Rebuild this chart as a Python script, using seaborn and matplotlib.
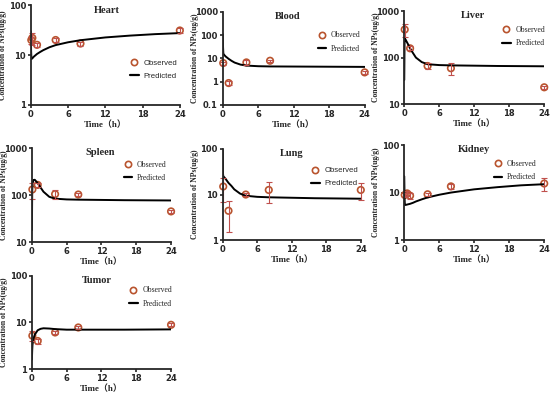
import numpy as np
import matplotlib
matplotlib.use("Agg")
import matplotlib.pyplot as plt
import seaborn as sns
from matplotlib.lines import Line2D
from matplotlib.ticker import NullLocator, FixedLocator, FuncFormatter

# predicted curve time grid (h)
pred_t = [0, 0.05, 0.1, 0.25, 0.5, 1, 1.5, 2, 3, 4, 6, 8, 12, 16, 20, 24]

# Heart
heart_t = [0.08, 0.25, 1, 4, 8, 24]
heart_obs = [20, 22, 16, 20, 17, 31]
heart_err = [3, 6, 1.5, 2, 1.5, 4]
heart_pred = [30, 12, 8.3, 8.6, 9.3, 10.5, 11.5, 12.5, 14.3, 15.8, 18, 19.8, 22.5, 24.5, 26.2, 27.5]

# Blood
blood_t = [0.08, 1, 4, 8, 24]
blood_obs = [6.3, 0.87, 6.7, 7.9, 2.5]
blood_err = [1.0, 0.15, 1.5, 1.0, 0.3]
blood_pred = [110, 30, 16, 14, 12, 9.5, 7.8, 6.6, 5.4, 4.9, 4.6, 4.5, 4.45, 4.4, 4.35, 4.3]

# Liver
liver_t = [0.08, 1, 4, 8, 24]
liver_obs = [400, 158, 66, 59, 23]
liver_err = [130, 15, 10, 17, 2]
liver_pred = [33, 200, 260, 240, 210, 158, 125, 100, 80, 72, 69, 68, 67, 66, 65.5, 65]

# Spleen
spleen_t = [0.08, 1, 4, 8, 24]
spleen_obs = [132, 165, 105, 103, 45]
spleen_err = [50, 15, 22, 8, 4]
spleen_pred = [18, 120, 170, 210, 212, 180, 145, 118, 92, 84, 81, 80, 79, 78, 77.5, 77]

# Lung
lung_t = [0.08, 1, 4, 8, 24]
lung_obs = [15, 4.4, 10, 12.6, 12.6]
lung_err = [8, 2.9, 0.8, 6.2, 5]
lung_pred = [95, 28, 25, 24, 22, 18, 15.5, 13, 10.5, 9.4, 8.9, 8.7, 8.5, 8.3, 8.2, 8.1]

# Kidney
kidney_t = [0.08, 0.5, 1, 4, 8, 24]
kidney_obs = [8.9, 9.6, 8.6, 9.2, 13.5, 15.5]
kidney_err = [0.8, 1.0, 1.3, 0.6, 1.5, 4.5]
kidney_pred = [22, 8, 5.5, 5.5, 5.6, 5.8, 6.1, 6.5, 7.2, 7.9, 9, 10, 11.7, 13, 14.2, 15]

# Tumor
tumor_t = [0.08, 1, 4, 8, 24]
tumor_obs = [5.2, 4.0, 6.1, 7.8, 8.9]
tumor_err = [1.2, 0.5, 0.4, 0.5, 0.6]
tumor_pred = [1.6, 2.5, 3.3, 4.4, 5.5, 6.8, 7.3, 7.5, 7.4, 7.2, 7.0, 7.0, 7.0, 7.0, 7.05, 7.1]

# name, data..., ylim, axes rect, legend font, legend anchor, title x
panels = [
    ("Heart", heart_t, heart_obs, heart_err, heart_pred, (1, 100), [0.056, 0.733, 0.271, 0.254], "sans", (0.63, 0.20), 0.51),
    ("Blood", blood_t, blood_obs, blood_err, blood_pred, (0.1, 1000), [0.405, 0.733, 0.258, 0.237], "serif", (0.63, 0.50), 0.46),
    ("Liver", liver_t, liver_obs, liver_err, liver_pred, (10, 1000), [0.735, 0.735, 0.2545, 0.237], "serif", (0.66, 0.55), 0.49),
    ("Spleen", spleen_t, spleen_obs, spleen_err, spleen_pred, (10, 1000), [0.058, 0.384, 0.253, 0.239], "serif", (0.62, 0.58), 0.49),
    ("Lung", lung_t, lung_obs, lung_err, lung_pred, (1, 100), [0.405, 0.389, 0.251, 0.232], "sans", (0.60, 0.52), 0.50),
    ("Kidney", kidney_t, kidney_obs, kidney_err, kidney_pred, (1, 100), [0.735, 0.389, 0.2545, 0.242], "serif", (0.60, 0.56), 0.50),
    ("Tumor", tumor_t, tumor_obs, tumor_err, tumor_pred, (1, 100), [0.058, 0.061, 0.253, 0.237], "serif", (0.66, 0.60), 0.47),
]

sns.set_style("ticks")
plt.rcParams['font.family'] = ['Liberation Serif', 'DejaVu Serif']

obs_color = "#B9542E"
fig = plt.figure(figsize=(5.5, 3.93), dpi=100)

for name, t, obs, err, pred, ylim, pos, legfont, legpos, title_x in panels:
    ax = fig.add_axes(pos)
    ax.set_yscale("log")
    sns.lineplot(x=pred_t, y=pred, ax=ax, color="black", linewidth=1.4, legend=False)
    ax.errorbar(t, obs, yerr=err, fmt="none", ecolor="#C0504D", elinewidth=0.8,
                capsize=2, capthick=0.8, clip_on=False)
    sns.scatterplot(x=t, y=obs, ax=ax, marker="o", s=22, facecolor="none",
                    edgecolor=obs_color, linewidth=1.2, legend=False, clip_on=False)
    ax.set_xlim(0, 24)
    ax.set_ylim(*ylim)
    ax.set_xticks([0, 6, 12, 18, 24])
    lo, hi = np.log10(ylim[0]), np.log10(ylim[1])
    decades = [10.0 ** k for k in range(int(round(lo)), int(round(hi)) + 1)]
    ax.yaxis.set_major_locator(FixedLocator(decades))
    ax.yaxis.set_minor_locator(NullLocator())
    ax.yaxis.set_major_formatter(FuncFormatter(lambda v, p: ("%g" % v)))
    for lab in ax.get_xticklabels() + ax.get_yticklabels():
        lab.set_fontfamily("DejaVu Sans")
        lab.set_fontweight("bold")
        lab.set_fontsize(6)
    ax.tick_params(axis="both", length=2.5, width=1.2, pad=1)
    for s in ["left", "bottom"]:
        ax.spines[s].set_linewidth(1.3)
    sns.despine(ax=ax)
    ax.set_xlabel("Time（h）", fontsize=6.5, fontweight="bold", labelpad=1,
                  family=["Liberation Serif", "Noto Sans CJK SC"])
    ax.set_ylabel("Concentration of NPs(ug/g)", fontsize=5.5, fontweight="bold")
    # keep the y label a fixed distance left of the axis
    ax.yaxis.set_label_coords(-24.0 / (pos[2] * 550), 0.5)
    ax.text(title_x, 0.95, name, transform=ax.transAxes, ha="center", va="center",
            fontsize=7.5, fontweight="bold")
    handles = [
        Line2D([], [], marker="o", linestyle="none", markerfacecolor="none",
               markeredgecolor=obs_color, markeredgewidth=1.2, markersize=4.5),
        Line2D([], [], color="black", linewidth=1.6),
    ]
    fam = "Liberation Sans" if legfont == "sans" else "Liberation Serif"
    ax.legend(handles, ["Observed", "Predicted"], loc="lower left", bbox_to_anchor=legpos,
              frameon=False, prop={"family": fam, "size": 5.6}, handlelength=1.1,
              handletextpad=0.6, labelspacing=0.7, borderpad=0.2)

fig.savefig("out.png", dpi=100)
